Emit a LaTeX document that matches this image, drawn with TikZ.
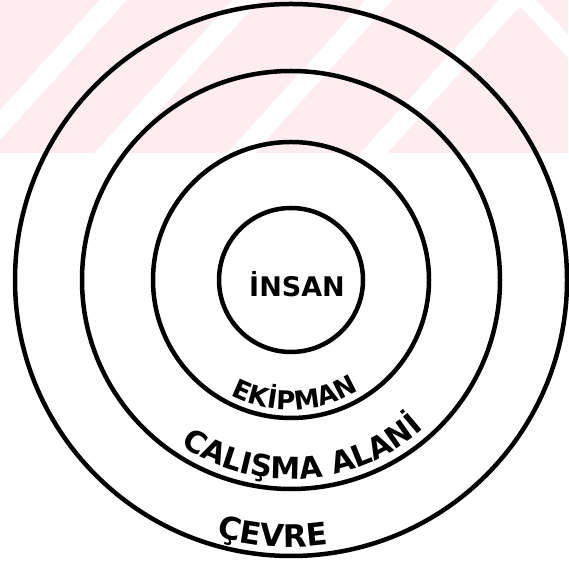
\documentclass[tikz,border=0pt]{standalone}
\usepackage{fontspec}
\newfontfamily\ringfont{DejaVu Sans}
\newcommand{\ringlab}[1]{\fontsize{#1}{#1}\selectfont\ringfont\bfseries}
\usetikzlibrary{decorations.text}
\definecolor{wmpink}{RGB}{253,236,240}
\tikzset{
    ring/.style={
        draw=black,
        circle,
        line width=4.5pt,
        inner sep=0pt
    },
    ringlabel/.style={
        decorate,
        decoration={
            text along path,
            text align=center,
            text={#1}
        }
    }
}

\begin{document}
\begin{tikzpicture}[x=1pt, y=1pt]
            % Frame :
            \useasboundingbox (0,0) rectangle (568,580);

            % Watermark stripes
            \begin{scope}
                \clip (0,427) rectangle (568,580);
                \fill [wmpink] (0,427) rectangle (568,580);
                \foreach \xt in {113,246,379,512}
                    \draw [white, line width=20pt] (\xt+10,591) -- (\xt-148,416);
                \draw [white, line width=16pt] (516,590) -- (590,510);
            \end{scope}

            % Rings
            \node (cevre) [ring, minimum size=552pt] at (291,300) {};
            \node (alan) [ring, minimum size=418pt] at (cevre.center) {};
            \node (ekipman) [ring, minimum size=276pt] at (cevre.center) {};
            \node (insan) [ring, minimum size=144pt] at (cevre.center) {};
            \node (insanText) [anchor=base, font=\ringlab{27}] at (297,283) {İNSAN};

            % Ring labels
            \path [ringlabel={|\ringlab{26}|EKİPMAN}]
                (cevre.center) ++(237:130) arc [start angle=237, end angle=307, radius=130];
            \path [ringlabel={|\ringlab{30}|CALIŞMA ALANİ}]
                (cevre.center) ++(224:199) arc [start angle=224, end angle=324, radius=199];
            \path [ringlabel={|\ringlab{31}|ÇEVRE}]
                (cevre.center) ++(236:267) arc [start angle=236, end angle=296, radius=267];
\end{tikzpicture}
\end{document}
